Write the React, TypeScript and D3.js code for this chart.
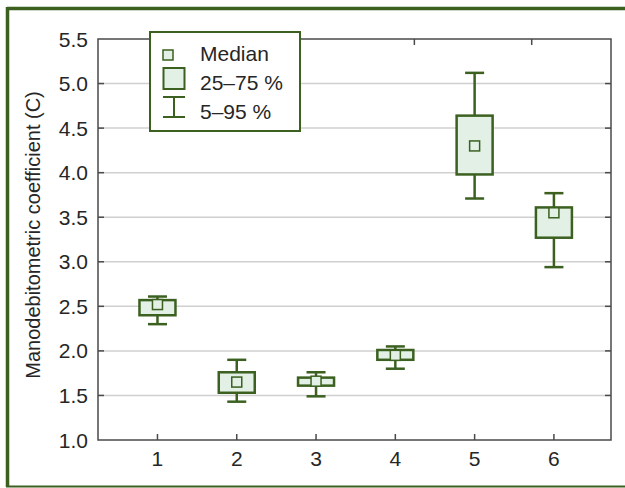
import React from 'react';
import * as d3 from 'd3';

// values
const groups = [1, 2, 3, 4, 5, 6];
const p5 = [2.3, 1.43, 1.49, 1.8, 3.71, 2.94];
const q1 = [2.4, 1.53, 1.61, 1.9, 3.98, 3.27];
const median = [2.52, 1.65, 1.66, 1.95, 4.3, 3.55];
const q3 = [2.57, 1.76, 1.7, 2.01, 4.64, 3.61];
const p95 = [2.61, 1.9, 1.76, 2.05, 5.12, 3.77];
const yTicks = [1.0, 1.5, 2.0, 2.5, 3.0, 3.5, 4.0, 4.5, 5.0, 5.5];
const topTicks = [1.28, 2.76, 4.24, 5.72];

const W = 625;
const H = 488;
const GREEN = '#3b6020';
const FILL = '#e2f0e5';
const AXIS = '#4a4a4a';
const FONT = 'Liberation Sans, Arial, Helvetica, sans-serif';
const FS = 21;

const App = () => {
  const m = { left: 98, right: 611, top: 39, bottom: 440 };
  const x = d3.scaleLinear().domain([0.25, 6.72]).range([m.left, m.right]);
  const y = d3.scaleLinear().domain([1.0, 5.5]).range([m.bottom, m.top]);

  const boxW = 36;
  const capW = 19;
  const medS = 10;
  const tick = 6;

  return (
    <svg width={W} height={H} style={{ position: 'absolute', left: 0, top: 0 }} fontFamily={FONT}>
      <rect x={0} y={0} width={W} height={H} fill="#fff" />

      {/* green frame */}
      <line x1={7} x2={W} y1={8.5} y2={8.5} stroke={GREEN} strokeWidth={3.5} />
      <line x1={7.5} x2={7.5} y1={7} y2={487} stroke={GREEN} strokeWidth={3.5} />
      <line x1={6} x2={W} y1={486.5} y2={486.5} stroke={GREEN} strokeWidth={2} />

      {/* grid */}
      {yTicks.slice(1, -1).map(t => (
        <line key={'g' + t} x1={m.left} x2={m.right} y1={y(t)} y2={y(t)} stroke="#d0d0d0" strokeWidth={1.5} />
      ))}

      {/* axes frame + inward ticks */}
      <rect x={m.left} y={m.top} width={m.right - m.left} height={m.bottom - m.top}
        fill="none" stroke={AXIS} strokeWidth={1.5} />
      {yTicks.slice(1, -1).map(t => (
        <g key={'yt' + t}>
          <line x1={m.left} x2={m.left + tick} y1={y(t)} y2={y(t)} stroke={AXIS} strokeWidth={1.5} />
          <line x1={m.right - tick} x2={m.right} y1={y(t)} y2={y(t)} stroke={AXIS} strokeWidth={1.5} />
        </g>
      ))}
      {groups.map(g => (
        <line key={'xt' + g} x1={x(g)} x2={x(g)} y1={m.bottom} y2={m.bottom - tick} stroke={AXIS} strokeWidth={1.5} />
      ))}
      {topTicks.map(g => (
        <line key={'tt' + g} x1={x(g)} x2={x(g)} y1={m.top} y2={m.top + tick} stroke={AXIS} strokeWidth={1.5} />
      ))}

      {/* tick labels */}
      {yTicks.map(t => (
        <text key={'yl' + t} x={88} y={y(t)} dy="0.36em" textAnchor="end" fontSize={FS} fill="#262626">
          {d3.format('.1f')(t)}
        </text>
      ))}
      {groups.map(g => (
        <text key={'xl' + g} x={x(g)} y={466} textAnchor="middle" fontSize={FS} fill="#262626">{g}</text>
      ))}
      <text transform={`translate(40,235) rotate(-90)`} textAnchor="middle" fontSize={20} fill="#262626">
        Manodebitometric coefficient (C)
      </text>

      {/* boxes */}
      {groups.map((g, i) => {
        const cx = x(g);
        return (
          <g key={'b' + g} stroke={GREEN}>
            <line x1={cx} x2={cx} y1={y(p95[i])} y2={y(q3[i])} strokeWidth={2.5} />
            <line x1={cx} x2={cx} y1={y(q1[i])} y2={y(p5[i])} strokeWidth={2.5} />
            <line x1={cx - capW / 2} x2={cx + capW / 2} y1={y(p95[i])} y2={y(p95[i])} strokeWidth={2.5} />
            <line x1={cx - capW / 2} x2={cx + capW / 2} y1={y(p5[i])} y2={y(p5[i])} strokeWidth={2.5} />
            <rect x={cx - boxW / 2} y={y(q3[i])} width={boxW} height={y(q1[i]) - y(q3[i])}
              fill={FILL} strokeWidth={2.5} />
            <rect x={cx - medS / 2} y={y(median[i]) - medS / 2} width={medS} height={medS}
              fill={FILL} strokeWidth={1.5} />
          </g>
        );
      })}

      {/* legend */}
      <g>
        <rect x={150} y={32} width={150} height={99} fill="#fff" stroke={GREEN} strokeWidth={2} />
        <rect x={163} y={50} width={10} height={10} fill={FILL} stroke={GREEN} strokeWidth={1.5} />
        <text x={200} y={61} fontSize={FS} fill="#262626">Median</text>
        <rect x={163.5} y={68} width={21} height={21} fill={FILL} stroke={GREEN} strokeWidth={2} />
        <text x={200} y={90} fontSize={FS} fill="#262626">25–75 %</text>
        <g stroke={GREEN} strokeWidth={2}>
          <line x1={163} x2={185} y1={97} y2={97} />
          <line x1={163} x2={185} y1={117} y2={117} />
          <line x1={174} x2={174} y1={97} y2={117} />
        </g>
        <text x={200} y={119} fontSize={FS} fill="#262626">5–95 %</text>
      </g>
    </svg>
  );
};

export default App;
